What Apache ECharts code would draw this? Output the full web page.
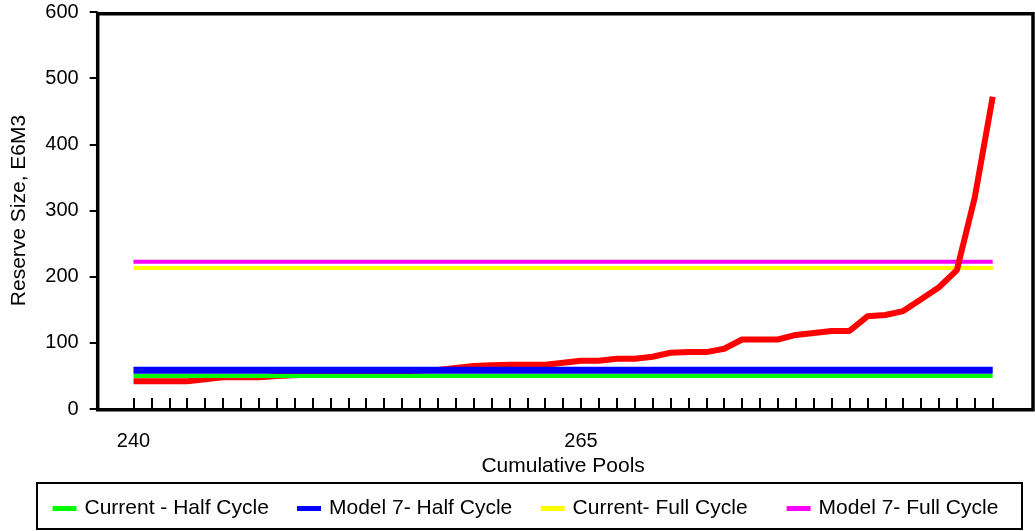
<!DOCTYPE html>
<html>
<head>
<meta charset="utf-8">
<script src="https://cdn.jsdelivr.net/npm/echarts@6/dist/echarts.min.js"></script>
<style>
html,body{margin:0;padding:0;background:#fff;}
#chart{width:1035px;height:531px;}
</style>
</head>
<body>
<div id="chart"></div>
<script>
// Category axis (cumulative pools)
const poolCategories = ['238','239','240','241','242','243','244','245','246','247','248','249','250','251','252','253','254','255','256','257','258','259','260','261','262','263','264','265','266','267','268','269','270','271','272','273','274','275','276','277','278','279','280','281','282','283','284','285','286','287','288','289','290'];
// Pools that carry data (240..288)
const dataPools = ['240','241','242','243','244','245','246','247','248','249','250','251','252','253','254','255','256','257','258','259','260','261','262','263','264','265','266','267','268','269','270','271','272','273','274','275','276','277','278','279','280','281','282','283','284','285','286','287','288'];
// Reserve size of pools (red curve), E6M3
const reserveSizes = [42,42,42,42,45,48,48,48,50,51,52,53,54,55,56,57,58,59,62,65,66,67,67,67,70,73,73,76,76,79,85,86,86,91,105,105,105,112,115,118,118,140,142,148,166,184,210,320,472];
// Threshold lines: [start pool, end pool] and value
const thresholdEnds = ['240','288'];
const currentHalfCycle = [50, 50];
const model7HalfCycle = [58.5, 58.5];
const currentFullCycle = [213, 213];
const model7FullCycle = [222.5, 222.5];
// Tick labels shown on x axis
const xLabelShown = ['240','265'];
// Legend entries
const legendNames = ['Current - Half Cycle', 'Model 7- Half Cycle', 'Current- Full Cycle', 'Model 7- Full Cycle'];
const legendLeft = [52.5, 297, 540.6, 786.6];

const pair = (xs, ys) => xs.map((x, i) => [x, ys[i]]);
const font = 'Arial, "Liberation Sans", sans-serif';

const chart = echarts.init(document.getElementById('chart'), null, {renderer: 'canvas'});
chart.setOption({
  animation: false,
  backgroundColor: '#fff',
  grid: [
    {left: 97.7, right: 6.5, top: 12, bottom: 122, containLabel: false},
    {left: 97.7, right: 2, top: 13.8, bottom: 121.3, show: true, borderColor: '#000', borderWidth: 3.5, backgroundColor: 'transparent'}
  ],
  xAxis: [
    {
      type: 'category', gridIndex: 0, data: poolCategories, boundaryGap: false,
      name: 'Cumulative Pools', nameLocation: 'middle', nameGap: 47,
      nameTextStyle: {color: '#000', fontSize: 21, fontFamily: font, verticalAlign: 'top'},
      axisLine: {show: false},
      axisTick: {show: true, inside: true, length: 11, lineStyle: {color: '#000', width: 2},
        interval: (i, v) => +v >= 240 && +v <= 288},
      axisLabel: {show: true, color: '#000', fontSize: 20, fontFamily: font, margin: 22,
        interval: (i, v) => xLabelShown.indexOf(v) >= 0},
      splitLine: {show: false}
    },
    {type: 'category', gridIndex: 1, show: false, data: poolCategories}
  ],
  yAxis: [
    {
      type: 'value', gridIndex: 0, min: 0, max: 600, interval: 100,
      name: 'Reserve Size, E6M3', nameLocation: 'middle', nameGap: 68, nameRotate: 90,
      nameTextStyle: {color: '#000', fontSize: 21, fontFamily: font},
      axisLine: {show: false},
      axisTick: {show: true, inside: false, length: 8, lineStyle: {color: '#000', width: 2}},
      axisLabel: {color: '#000', fontSize: 20, fontFamily: font, margin: 19},
      splitLine: {show: false}
    },
    {type: 'value', gridIndex: 1, show: false, min: 0, max: 600}
  ],
  legend: legendNames.map((n, i) => ({
    left: legendLeft[i], top: 498, orient: 'horizontal', padding: 0,
    icon: 'rect', itemWidth: 24, itemHeight: 5,
    textStyle: {color: '#000', fontSize: 21, fontFamily: font, padding: [0, 0, 0, 3]},
    data: [n]
  })),
  graphic: [
    {type: 'rect', shape: {x: 37, y: 483, width: 985, height: 46}, style: {fill: 'none', stroke: '#000', lineWidth: 2}, silent: true}
  ],
  series: [
    {name: 'Current- Full Cycle', type: 'line', data: pair(thresholdEnds, currentFullCycle), symbol: 'none',
      lineStyle: {color: '#FFFF00', width: 4}, itemStyle: {color: '#FFFF00'}},
    {name: 'Model 7- Full Cycle', type: 'line', data: pair(thresholdEnds, model7FullCycle), symbol: 'none',
      lineStyle: {color: '#FF00FF', width: 4}, itemStyle: {color: '#FF00FF'}},
    {name: 'Pools', type: 'line', data: pair(dataPools, reserveSizes), symbol: 'none',
      lineStyle: {color: '#FF0000', width: 6}, itemStyle: {color: '#FF0000'}},
    {name: 'Current - Half Cycle', type: 'line', data: pair(thresholdEnds, currentHalfCycle), symbol: 'none',
      lineStyle: {color: '#00FF00', width: 4}, itemStyle: {color: '#00FF00'}},
    {name: 'Model 7- Half Cycle', type: 'line', data: pair(thresholdEnds, model7HalfCycle), symbol: 'none',
      lineStyle: {color: '#0000FF', width: 7}, itemStyle: {color: '#0000FF'}}
  ]
});
</script>
</body>
</html>
